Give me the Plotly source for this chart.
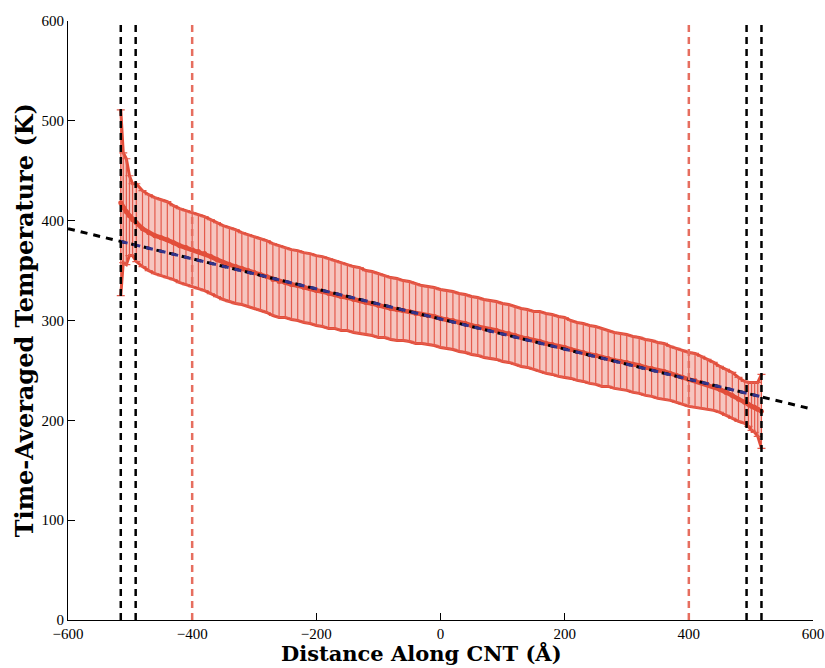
import plotly.graph_objects as go

# ---- data ----
x_left = [-515, -511, -506, -501, -496]
mean_left = [418, 413, 409, 405, 401]
err_left = [93, 55, 53, 40, 36]

x_main = list(range(-490, 491, 10))
mean_main = [398, 392, 388, 385, 383, 381, 378, 375, 373, 371,
             369, 367, 364, 361, 358, 356, 354, 352, 350, 348,
             346, 344, 341, 339, 338, 336, 335, 333, 332, 330,
             329, 327, 326, 324, 323, 321, 320, 318, 317, 315,
             314, 312, 311, 310, 309, 307, 306, 305, 304, 302,
             301, 300, 298, 297, 295, 294, 292, 291, 290, 288,
             287, 285, 283, 282, 280, 279, 277, 276, 274, 273,
             271, 269, 268, 266, 265, 263, 262, 260, 259, 258,
             256, 255, 253, 252, 250, 249, 247, 245, 243, 241,
             240, 238, 236, 234, 231, 228, 225, 221, 218]
err_main = [39, 38, 38, 38, 38, 38, 37, 37, 37, 37,
            37, 37, 37, 37, 37, 37, 37, 36, 36, 36,
            36, 36, 36, 36, 35, 35, 35, 35, 35, 35,
            35, 35, 34, 34, 33, 33, 33, 32, 32, 32,
            31, 31, 31, 30, 30, 30, 29, 29, 29, 29,
            29, 29, 29, 29, 29, 29, 29, 29, 29, 29,
            29, 29, 29, 29, 29, 30, 30, 30, 30, 30,
            29, 29, 29, 29, 29, 29, 28, 28, 28, 28,
            28, 28, 28, 28, 28, 28, 27, 27, 27, 27,
            27, 26, 25, 24, 23, 23, 23, 22, 21]

x_right = [496, 501, 506, 511, 517]
mean_right = [216, 214, 213, 211, 209]
err_right = [22, 24, 25, 27, 37]

fit_x = [-600, 600]
fit_T = [392, 211]
blue_x = [-515, 517]

contact_lines = [-515, -491, 493, 517]
thermostat_lines = [-400, 400]

x_ticks = [-600, -400, -200, 0, 200, 400, 600]
y_ticks = [0, 100, 200, 300, 400, 500, 600]

x_title = "Distance Along CNT (Å)"
y_title = "Time-Averaged Temperature (K)"

# ---- assemble ----
xs = x_left + x_main + x_right
ms = mean_left + mean_main + mean_right
es = err_left + err_main + err_right
upper = [m + e for m, e in zip(ms, es)]
lower = [m - e for m, e in zip(ms, es)]

slope = (fit_T[1] - fit_T[0]) / (fit_x[1] - fit_x[0])
blue_T = [fit_T[0] + slope * (x - fit_x[0]) for x in blue_x]

RED = "rgb(226,78,58)"
fig = go.Figure()

fig.add_trace(go.Scatter(x=xs, y=lower, mode="lines",
                         line=dict(color=RED, width=3), hoverinfo="skip"))
fig.add_trace(go.Scatter(x=xs, y=upper, mode="lines", fill="tonexty",
                         fillcolor="rgba(238,140,128,0.5)",
                         line=dict(color=RED, width=3), hoverinfo="skip"))
fig.add_trace(go.Scatter(x=xs, y=ms, mode="lines+markers",
                         line=dict(color=RED, width=4.5),
                         marker=dict(color=RED, size=5),
                         error_y=dict(type="data", array=es, color="rgb(228,90,75)",
                                      thickness=1.2, width=4)))

fig.add_trace(go.Scatter(x=fit_x, y=fit_T, mode="lines",
                         line=dict(color="black", width=3, dash="7px,6px")))
fig.add_trace(go.Scatter(x=blue_x, y=blue_T, mode="lines",
                         line=dict(color="rgb(52,52,140)", width=3, dash="7px,6px")))

for xv in contact_lines:
    fig.add_shape(type="line", x0=xv, x1=xv, y0=0, y1=600, xref="x", yref="y",
                  line=dict(color="black", width=2.5, dash="7px,5px"))
for xv in thermostat_lines:
    fig.add_shape(type="line", x0=xv, x1=xv, y0=0, y1=600, xref="x", yref="y",
                  line=dict(color="rgb(230,110,95)", width=2.5, dash="7px,5px"))

fig.add_annotation(text="<b>" + x_title + "</b>", xref="paper", yref="paper",
                   x=0.474, y=-0.056, xanchor="center", yanchor="middle",
                   showarrow=False, font=dict(size=21, family="DejaVu Serif", color="black"))
fig.add_annotation(text="<b>" + y_title + "</b>", xref="paper", yref="paper",
                   x=-0.058, y=0.5, xanchor="center", yanchor="middle", textangle=-90,
                   showarrow=False, font=dict(size=24, family="DejaVu Serif", color="black"))

fig.update_layout(
    width=825, height=668,
    margin=dict(l=68, r=12, t=21, b=48),
    plot_bgcolor="white", paper_bgcolor="white",
    showlegend=False,
    font=dict(family="Liberation Serif", size=15, color="black"),
)
fig.update_xaxes(range=[-600, 600], tickvals=x_ticks,
                 ticktext=["\u2212600", "\u2212400", "\u2212200", "0", "200", "400", "600"],
                 showgrid=False, zeroline=False, automargin=False,
                 showline=True, linecolor="black", linewidth=1,
                 ticks="inside", ticklen=7, tickcolor="black")
fig.update_yaxes(range=[0, 600], tickvals=y_ticks,
                 showgrid=False, zeroline=False, automargin=False,
                 showline=True, linecolor="black", linewidth=1,
                 ticks="inside", ticklen=7, tickcolor="black")

fig.write_html("out.html")
